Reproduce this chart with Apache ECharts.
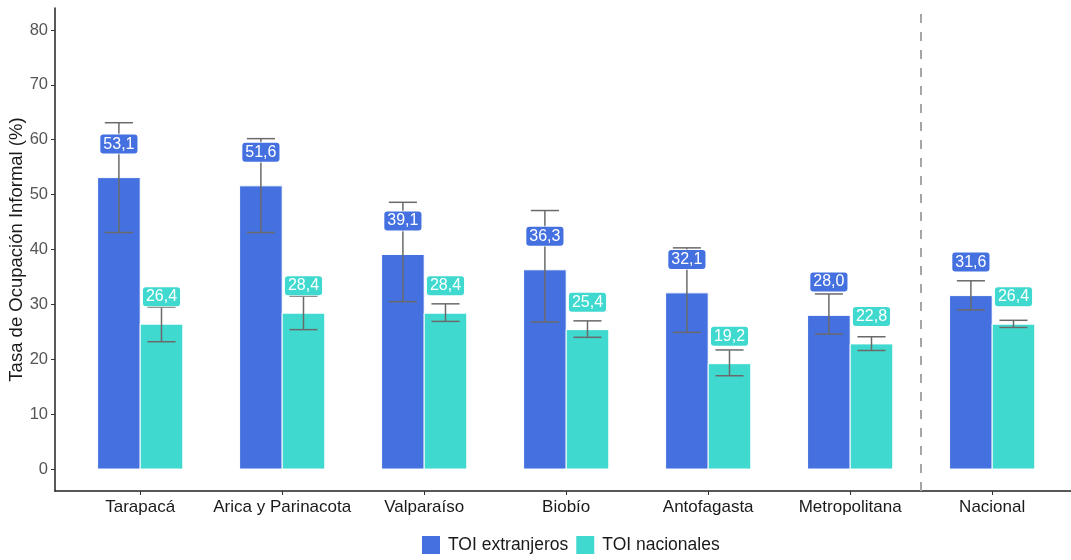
<!DOCTYPE html>
<html>
<head>
<meta charset="utf-8">
<script src="https://cdn.jsdelivr.net/npm/echarts@6/dist/echarts.min.js"></script>
<style>html,body{margin:0;padding:0;background:#fff}#c{width:1071px;height:560px}</style>
</head>
<body>
<div id="c"></div>
<script>
const categories = ['Tarapacá','Arica y Parinacota','Valparaíso','Biobío','Antofagasta','Metropolitana','Nacional'];
const extranjeros = [53.1, 51.6, 39.1, 36.3, 32.1, 28.0, 31.6];
const extLow =      [43.1, 43.1, 30.5, 26.8, 24.9, 24.6, 29.0];
const extHigh =     [63.1, 60.2, 48.6, 47.1, 40.3, 31.9, 34.3];
const nacionales =  [26.4, 28.4, 28.4, 25.4, 19.2, 22.8, 26.4];
const nacLow =      [23.2, 25.4, 26.9, 24.0, 17.0, 21.6, 25.8];
const nacHigh =     [29.5, 31.5, 30.1, 27.0, 21.7, 24.1, 27.1];
const yTicks = [0, 10, 20, 30, 40, 50, 60, 70, 80];
const seriesNames = ['TOI extranjeros', 'TOI nacionales'];

const COLORS = ['#4470E0', '#40D9CF'];
const FONT = '"Liberation Sans", Arial, sans-serif';
const OFFS = [-0.15, 0.15];
const HALF = 0.15;
const CAP = 0.099;
const LABEL_NUDGE = [6.1, 5.0];

function rows(vals, lo, hi) {
  return vals.map((v, i) => [i, v, lo[i], hi[i]]);
}
const dataSets = [rows(extranjeros, extLow, extHigh), rows(nacionales, nacLow, nacHigh)];

function barRender(k) {
  return function (params, api) {
    const i = api.value(0), v = api.value(1);
    const p0 = api.coord([i + OFFS[k] - HALF, v]);
    const p1 = api.coord([i + OFFS[k] + HALF, 0]);
    return {
      type: 'rect',
      shape: { x: p0[0], y: p0[1], width: p1[0] - p0[0], height: p1[1] - p0[1] },
      style: { fill: COLORS[k], stroke: '#ffffff', lineWidth: 1 }
    };
  };
}
function errRender(k) {
  return function (params, api) {
    const i = api.value(0) + OFFS[k];
    const lo = api.value(2), hi = api.value(3);
    const a = api.coord([i, lo]), b = api.coord([i, hi]);
    const l1 = api.coord([i - CAP, lo]), r1 = api.coord([i + CAP, lo]);
    const l2 = api.coord([i - CAP, hi]), r2 = api.coord([i + CAP, hi]);
    const st = { stroke: '#6a6a6a', lineWidth: 1.5 };
    return {
      type: 'group',
      children: [
        { type: 'line', shape: { x1: a[0], y1: a[1], x2: b[0], y2: b[1] }, style: st },
        { type: 'line', shape: { x1: l1[0], y1: l1[1], x2: r1[0], y2: r1[1] }, style: st },
        { type: 'line', shape: { x1: l2[0], y1: l2[1], x2: r2[0], y2: r2[1] }, style: st }
      ]
    };
  };
}
function labelRender(k) {
  return function (params, api) {
    const i = api.value(0) + OFFS[k];
    const v = api.value(1);
    const c = api.coord([i, v + LABEL_NUDGE[k]]);
    return {
      type: 'text',
      x: c[0], y: c[1],
      style: {
        text: v.toFixed(1).replace('.', ','),
        fill: '#ffffff',
        font: '16px ' + FONT,
        align: 'center',
        verticalAlign: 'middle',
        backgroundColor: COLORS[k],
        borderColor: 'rgba(255,255,255,0.7)',
        borderWidth: 1,
        borderRadius: 3,
        padding: [2, 3, 1, 3]
      }
    };
  };
}

const series = [];
[0, 1].forEach(k => {
  series.push({
    name: seriesNames[k], type: 'custom', data: dataSets[k],
    encode: { x: 0, y: 1 }, itemStyle: { color: COLORS[k] },
    renderItem: barRender(k), z: 2
  });
});
[0, 1].forEach(k => {
  series.push({
    type: 'custom', data: dataSets[k], encode: { x: 0, y: 1 },
    renderItem: errRender(k), z: 3, silent: true
  });
});
[0, 1].forEach(k => {
  series.push({
    type: 'custom', data: dataSets[k], encode: { x: 0, y: 1 },
    renderItem: labelRender(k), z: 4, silent: true
  });
});
series[0].markLine = {
  silent: true, symbol: 'none', label: { show: false },
  lineStyle: { color: '#a6a6a6', width: 2, type: [9, 9] },
  data: [{ xAxis: categories.length - 1.5 }]
};

const chart = echarts.init(document.getElementById('c'), null, { renderer: 'canvas' });
chart.setOption({
  animation: false,
  backgroundColor: '#ffffff',
  grid: { left: 55, top: 8, width: 1016, height: 483, containLabel: false, outerBoundsMode: 'none' },
  xAxis: {
    type: 'value', min: -0.6, max: 6.555,
    splitLine: { show: false },
    axisLine: { show: true, onZero: false, lineStyle: { color: '#222', width: 1.5 } },
    axisTick: { show: true, length: 4, lineStyle: { color: '#333', width: 1 },
      customValues: categories.map((c, i) => i) },
    axisLabel: {
      customValues: categories.map((c, i) => i),
      formatter: v => categories[Math.round(v)],
      color: '#1a1a1a', fontSize: 17, fontFamily: FONT, margin: 8
    }
  },
  yAxis: {
    type: 'value', min: -4, max: 84,
    name: 'Tasa de Ocupación Informal (%)', nameLocation: 'middle', nameGap: 29,
    nameMoveOverlap: false,
    nameTextStyle: { color: '#1a1a1a', fontSize: 18.5, fontFamily: FONT },
    splitLine: { show: false },
    axisLine: { show: true, onZero: false, lineStyle: { color: '#222', width: 1.5 } },
    axisTick: { show: true, length: 4, lineStyle: { color: '#333', width: 1 }, customValues: yTicks },
    axisLabel: { customValues: yTicks, color: '#555', fontSize: 16.5, fontFamily: FONT, margin: 7 }
  },
  legend: {
    data: seriesNames, bottom: 1, left: 417,
    icon: 'rect', itemWidth: 18, itemHeight: 18, itemGap: 8,
    textStyle: { color: '#1a1a1a', fontSize: 17.5, fontFamily: FONT, padding: [0, 0, 0, 3] }
  },
  series: series
});
</script>
</body>
</html>
